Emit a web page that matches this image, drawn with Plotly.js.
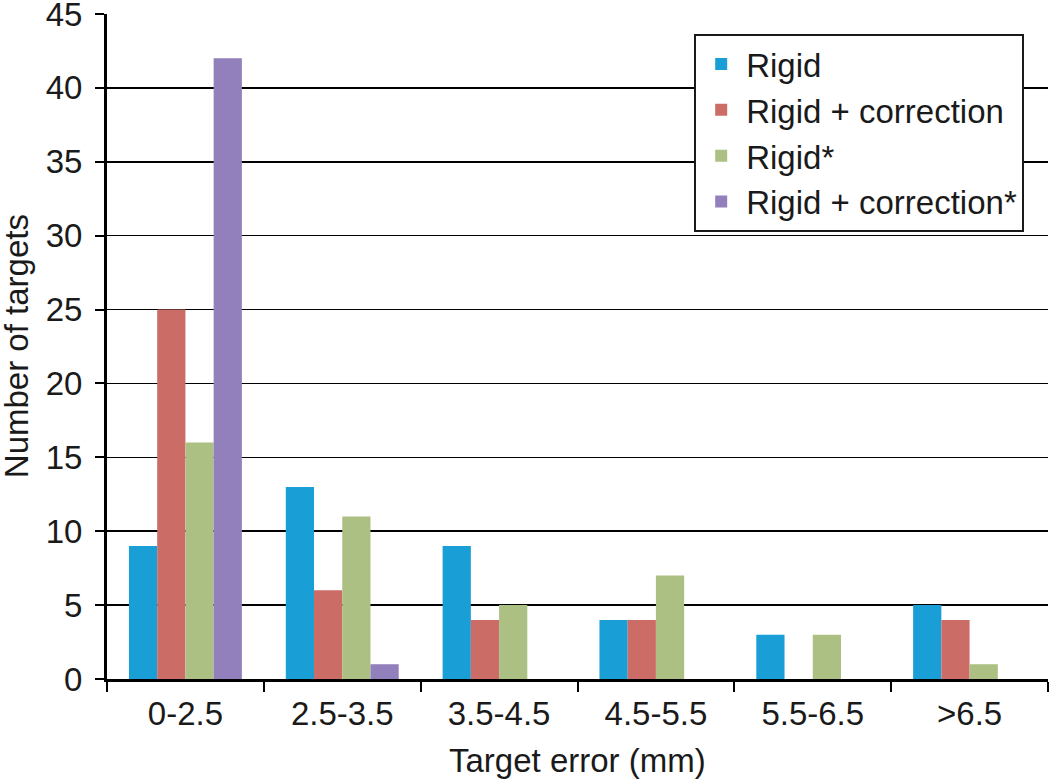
<!DOCTYPE html>
<html>
<head>
<meta charset="utf-8">
<script src="https://cdn.plot.ly/plotly-3.0.1.min.js"></script>
<style>html,body{margin:0;padding:0;background:#fff;}#chart{width:1050px;height:782px;}</style>
</head>
<body>
<div id="chart"></div>
<script>
const categories = ["0-2.5", "2.5-3.5", "3.5-4.5", "4.5-5.5", "5.5-6.5", ">6.5"];
const seriesNames = ["Rigid", "Rigid + correction", "Rigid*", "Rigid + correction*"];
const rigid = [9, 13, 9, 4, 3, 5];
const rigidCorrection = [25, 6, 4, 4, 0, 4];
const rigidStar = [16, 11, 5, 7, 3, 1];
const rigidCorrectionStar = [42, 1, 0, 0, 0, 0];
const colors = ["#199fd5", "#cc6c67", "#acc083", "#9280bc"];

const allValues = [rigid, rigidCorrection, rigidStar, rigidCorrectionStar];
const traces = allValues.map((vals, i) => ({
  type: "bar",
  name: seriesNames[i],
  x: categories,
  y: vals,
  marker: {color: colors[i], line: {width: 0}},
  hoverinfo: "skip"
}));

const font = "Liberation Sans, Arial, Helvetica, sans-serif";
const txt = "#1a1a1a";
const layout = {
  width: 1050,
  height: 782,
  margin: {l: 107, r: 2, t: 14, b: 103},
  paper_bgcolor: "#ffffff",
  plot_bgcolor: "#ffffff",
  font: {family: font, color: txt, size: 33},
  barmode: "group",
  bargap: 0.28,
  bargroupgap: 0,
  showlegend: true,
  legend: {
    x: 0.624, y: 0.97, xanchor: "left", yanchor: "top",
    bgcolor: "#ffffff", bordercolor: txt, borderwidth: 2,
    font: {family: font, size: 33, color: txt},
    itemwidth: 40,
    tracegroupgap: 0
  },
  xaxis: {
    type: "category",
    showline: true, linecolor: "#000", linewidth: 3,
    ticks: "outside", tickson: "boundaries", ticklen: 10, tickwidth: 2, tickcolor: "#000",
    showgrid: false,
    tickfont: {family: font, size: 33, color: txt},
    ticklabelstandoff: 3,
    automargin: false
  },
  yaxis: {
    range: [0, 45],
    tickvals: [0, 5, 10, 15, 20, 25, 30, 35, 40, 45],
    showline: true, linecolor: "#000", linewidth: 3,
    ticks: "outside", ticklen: 9, tickwidth: 2, tickcolor: "#000",
    showgrid: true, gridcolor: "#000", gridwidth: 1.5,
    zeroline: false,
    tickfont: {family: font, size: 33, color: txt},
    ticklabelstandoff: 6,
    ticklabeloverflow: "allow",
    automargin: false
  },
  annotations: [
    {text: "Target error (mm)", xref: "paper", yref: "paper", x: 0.5, y: -0.122,
     xanchor: "center", yanchor: "middle", showarrow: false,
     font: {family: font, size: 33, color: txt}},
    {text: "Number of targets", xref: "paper", yref: "paper", x: -0.096, y: 0.5,
     xanchor: "center", yanchor: "middle", textangle: -90, showarrow: false,
     font: {family: font, size: 33, color: txt}}
  ]
};

Plotly.newPlot("chart", traces, layout, {staticPlot: true, displayModeBar: false});
</script>
</body>
</html>
